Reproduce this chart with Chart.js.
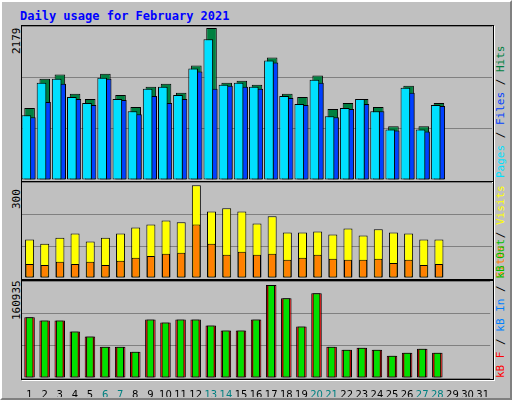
<!DOCTYPE html>
<html>
<head>
<meta charset="UTF-8">
<script src="https://cdn.jsdelivr.net/npm/chart.js"></script>
<style>
  body { margin:0; background:#fff; font-family:"DejaVu Sans Mono", monospace; }
  #wrap { position:absolute; left:0; top:0; width:508px; height:396px; background:#c0c0c0;
          border-top:2px solid #fff; border-left:2px solid #fff; border-right:2px solid #808080; border-bottom:2px solid #808080; }
  .frame { position:absolute; left:19px; width:471px; border:1px solid #000; box-shadow:1px 1px 0 #fff; }
  canvas { position:absolute; }
  .title { position:absolute; left:18px; top:7px; color:#0000ff; font-weight:bold; font-size:12px; }
  .vl { position:absolute; transform-origin:left top; white-space:nowrap; font-size:11px; transform:rotate(-90deg); }
</style>
</head>
<body>
<div id="wrap">
  <div class="title">Daily usage for February 2021</div>
  <div class="frame" style="top:23px;height:155px"></div>
  <div class="frame" style="top:179px;height:97px"></div>
  <div class="frame" style="top:278px;height:98px"></div>
  <div class="vl" style="left:8px;top:52px">2179</div>
  <div class="vl" style="left:8px;top:207px">300</div>
  <div class="vl" style="left:8px;top:318px">160935</div>
  <div class="vl" style="left:492px;top:176px"><span style="color:#00e0ff">Pages</span> / <span style="color:#0040ff">Files</span> / <span style="color:#008040">Hits</span></div>
  <div class="vl" style="left:492px;top:276px"><span style="color:#ff8000">Sites</span> / <span style="color:#ffff00">Visits</span></div>
  <div class="vl" style="left:492px;top:376px"><span style="color:#ff0000">kB F</span> / <span style="color:#0080ff">kB In</span> / <span style="color:#00c000">kB Out</span></div>
  <canvas id="c1" style="left:20px;top:24px"></canvas>
  <canvas id="c2" style="left:20px;top:180px"></canvas>
  <canvas id="c3" style="left:20px;top:279px"></canvas>
</div>
<script>
const days = Array.from({length:31}, (_, i) => String(i + 1));
const weekend = ["6","7","13","14","20","21","27","28"];
const hitsMax = 2179, visitsMax = 300, kbMax = 160935;

const hits  = [1018,1434,1491,1219,1147,1505,1204,1032,1319,1362,1233,1620,2150,1376,1405,1347,1734,1219,1176,1477,1003,1089,1147,1032,759,1333,759,1090];
const pages = [917,1376,1434,1175,1090,1448,1147,974,1290,1319,1204,1577,1993,1347,1376,1319,1691,1190,1075,1419,903,1018,1147,974,716,1304,716,1060];
const files = [888,1104,1362,1147,1060,1433,1132,932,1190,1089,1147,1534,1290,1333,1319,1290,1663,1162,1060,1376,888,1003,1075,974,702,1233,688,1046];
const visits = [120,107,126,139,114,126,139,158,167,180,174,290,208,218,208,170,193,142,142,145,136,155,133,152,142,139,120,120];
const sites  = [44,41,51,44,51,41,54,63,69,76,79,167,107,73,82,73,76,57,63,73,60,57,57,60,47,57,41,44];
const kbIn = [100590,95560,95560,77120,68740,52000,52000,43580,97230,92200,97230,97230,87170,78790,78790,97230,154230,132440,85500,140800,52000,46940,50290,46940,36880,41910,48620,41910];

function thirds(max) {
  return s => { s.ticks = [0, max/3, 2*max/3, max].map(v => ({value:v})); };
}
function yAxis(max) {
  return { min:0, max:max, afterBuildTicks:thirds(max), border:{display:false},
           grid:{color:'#808080', lineWidth:1, drawTicks:false}, ticks:{display:false} };
}
function xAxis(show) {
  if (!show) return { display:false };
  return { grid:{display:false}, border:{display:false},
           afterFit: s => { s.height = 19; },
           ticks:{ autoSkip:false, maxRotation:0, padding:3,
                   font:{family:'DejaVu Sans', size:10},
                   color: c => weekend.includes(days[c.index]) ? '#008080' : '#000' } };
}
function bar(label, data, color, opts) {
  return Object.assign({ label, data, backgroundColor:color, borderColor:'#000', borderWidth:1,
                         borderSkipped:false }, opts);
}
const base = { responsive:false, animation:false, events:[],
               layout:{padding:0}, plugins:{legend:{display:false}, tooltip:{enabled:false}} };

function make(id, w, h, datasets, max, showX) {
  const cv = document.getElementById(id);
  cv.width = w; cv.height = h;
  new Chart(cv, { type:'bar', data:{labels:days, datasets},
    options: Object.assign({}, base, { categoryPercentage:0.85,
      scales:{ x:xAxis(showX), y:yAxis(max) } }) });
}

make('c1', 470, 154, [
  bar('Hits', hits, '#008040', {grouped:false, barPercentage:0.82, order:3}),
  bar('Files', files, '#0040ff', {barPercentage:0.9, order:2}),
  bar('Pages', pages, '#00e0ff', {barPercentage:1.5, order:1})
], hitsMax, false);

make('c2', 470, 96, [
  bar('Visits', visits, '#ffff00', {grouped:false, barPercentage:0.7, order:2}),
  bar('Sites', sites, '#ff8000', {grouped:false, barPercentage:0.62, order:1})
], visitsMax, false);

make('c3', 470, 116, [
  bar('kB F', kbIn, '#ff0000', {grouped:false, barPercentage:0.82, order:2}),
  bar('kB In', kbIn, '#00e000', {grouped:false, barPercentage:0.6, order:1})
], kbMax, true);
</script>
</body>
</html>
